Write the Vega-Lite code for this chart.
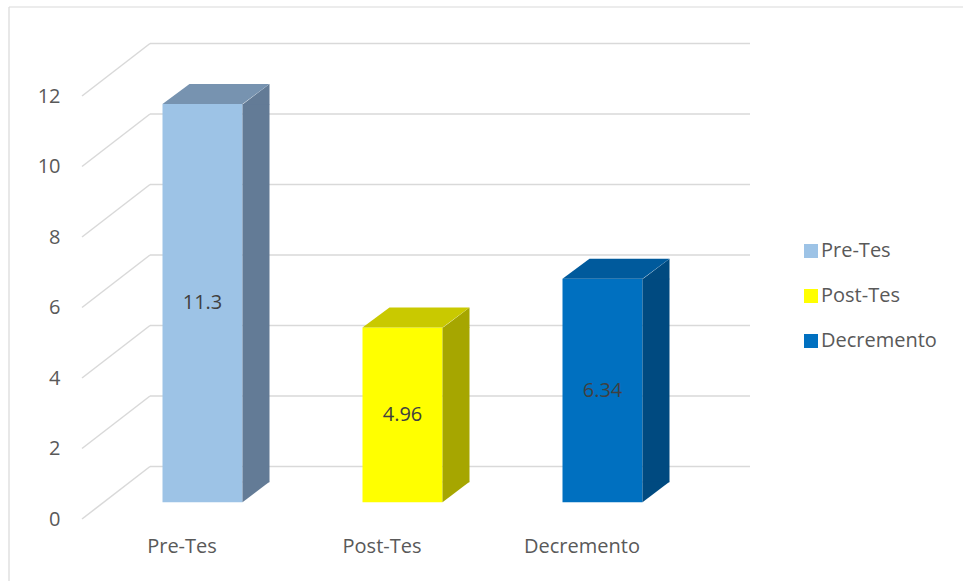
{
  "$schema": "https://vega.github.io/schema/vega-lite/v6.json",
  "autosize": {"type": "none"},
  "padding": {"left": 82, "top": 96, "right": 281, "bottom": 62},
  "width": 600,
  "height": 423,
  "background": "#ffffff",
  "config": {"view": {"stroke": null}, "font": "Open Sans"},
  "datasets": {
    "main": [
      {"cat": "Pre-Tes", "value": 11.3},
      {"cat": "Post-Tes", "value": 4.96},
      {"cat": "Decremento", "value": 6.34}
    ],
    "grid": [{"v": 0}, {"v": 2}, {"v": 4}, {"v": 6}, {"v": 8}, {"v": 10}, {"v": 12}]
  },
  "resolve": {"scale": {"y": "independent"}},
  "layer": [
    {
      "resolve": {"scale": {"color": "independent"}},
      "layer": [
        {
          "data": {"name": "grid"},
          "mark": {"type": "rule", "color": "#d9d9d9", "strokeWidth": 1.5, "xOffset": 68, "x2Offset": 68, "yOffset": -52.5},
          "encoding": {
            "x": {"datum": "Pre-Tes", "bandPosition": 0, "scale": {"domain": ["Pre-Tes", "Post-Tes", "Decremento"], "paddingInner": 0, "paddingOuter": 0}},
            "x2": {"datum": "Decremento", "bandPosition": 1},
            "y": {
              "field": "v", "type": "quantitative",
              "scale": {"domain": [0, 12], "nice": false, "zero": true},
              "axis": {"values": [0, 2, 4, 6, 8, 10, 12], "ticks": false, "domain": false, "grid": false, "title": null, "labelFontSize": 20, "labelFont": "Open Sans", "labelColor": "#595959", "labelPadding": 22}
            }
          }
        },
        {
          "data": {"name": "grid"},
          "mark": {"type": "rule", "color": "#d9d9d9", "strokeWidth": 1.5, "x2Offset": 68, "y2Offset": -52.5},
          "encoding": {
            "x": {"datum": "Pre-Tes", "bandPosition": 0},
            "x2": {"datum": "Pre-Tes", "bandPosition": 0},
            "y": {"field": "v", "type": "quantitative"},
            "y2": {"field": "v"}
          }
        },
        {
          "data": {"values": [{}]},
          "mark": {"type": "rule", "color": "#d9d9d9", "strokeWidth": 1.2, "xOffset": -73, "yOffset": -89, "y2Offset": 70},
          "encoding": {
            "x": {"datum": "Pre-Tes", "bandPosition": 0},
            "y": {"datum": 12, "type": "quantitative"},
            "y2": {"datum": 0}
          }
        },
        {
          "data": {"values": [{}]},
          "mark": {"type": "rule", "color": "#d9d9d9", "strokeWidth": 1.2, "xOffset": -73, "x2Offset": 300, "yOffset": -89},
          "encoding": {
            "x": {"datum": "Pre-Tes", "bandPosition": 0},
            "x2": {"datum": "Decremento", "bandPosition": 1},
            "y": {"datum": 12, "type": "quantitative"}
          }
        },
        {
          "data": {"name": "main"},
          "mark": {"type": "bar", "width": 80, "xOffset": 20.5, "yOffset": -16.7, "y2Offset": -16.7},
          "encoding": {
            "x": {
              "field": "cat", "type": "nominal", "sort": ["Pre-Tes", "Post-Tes", "Decremento"],
              "axis": {"title": null, "ticks": false, "domain": false, "labelAngle": 0, "labelAlign": "center", "labelFontSize": 20, "labelFont": "Open Sans", "labelColor": "#595959", "labelPadding": 27}
            },
            "y": {"field": "value", "type": "quantitative"},
            "y2": {"datum": 0},
            "color": {
              "field": "cat", "type": "nominal",
              "scale": {"domain": ["Pre-Tes", "Post-Tes", "Decremento"], "range": ["#9DC3E6", "#FFFF00", "#0070C0"]},
              "legend": {"orient": "none", "legendX": 719, "legendY": 145, "title": null, "symbolType": "square", "symbolSize": 196, "symbolStrokeWidth": 0, "labelFontSize": 20, "labelFont": "Open Sans", "labelColor": "#595959", "rowPadding": 25, "labelOffset": 0}
            }
          }
        },
        {
          "data": {"name": "main"},
          "mark": {"type": "bar", "width": 27, "xOffset": 74, "yOffset": -16.7, "y2Offset": -36.7},
          "encoding": {
            "x": {"field": "cat", "type": "nominal"},
            "y": {"field": "value", "type": "quantitative"},
            "y2": {"datum": 0},
            "color": {"field": "cat", "type": "nominal", "scale": {"domain": ["Pre-Tes", "Post-Tes", "Decremento"], "range": ["#637B96", "#A6A600", "#004A80"]}, "legend": null}
          }
        },
        {
          "data": {"name": "main"},
          "mark": {"type": "point", "filled": true, "opacity": 1, "size": 4, "shape": "M60.5,-16.2L87.5,-36.7L87.5,-16.2Z"},
          "encoding": {
            "x": {"field": "cat", "type": "nominal"},
            "y": {"field": "value", "type": "quantitative"},
            "color": {"field": "cat", "type": "nominal", "scale": {"domain": ["Pre-Tes", "Post-Tes", "Decremento"], "range": ["#637B96", "#A6A600", "#004A80"]}, "legend": null}
          }
        },
        {
          "data": {"name": "main"},
          "mark": {"type": "point", "filled": true, "opacity": 1, "size": 4, "shape": "M60.5,-37.2L87.5,-37.2L60.5,-16.7Z"},
          "encoding": {
            "x": {"field": "cat", "type": "nominal"},
            "y": {"datum": 0, "type": "quantitative"},
            "color": {"field": "cat", "type": "nominal", "scale": {"domain": ["Pre-Tes", "Post-Tes", "Decremento"], "range": ["#637B96", "#A6A600", "#004A80"]}, "legend": null}
          }
        },
        {
          "data": {"name": "main"},
          "mark": {"type": "point", "filled": true, "opacity": 1, "size": 4, "shape": "M-19.5,-16.7L60.5,-16.7L87.5,-36.7L7.5,-36.7Z"},
          "encoding": {
            "x": {"field": "cat", "type": "nominal"},
            "y": {"field": "value", "type": "quantitative"},
            "color": {"field": "cat", "type": "nominal", "scale": {"domain": ["Pre-Tes", "Post-Tes", "Decremento"], "range": ["#7793B0", "#C9C900", "#005A9C"]}, "legend": null}
          }
        }
      ]
    },
    {
      "data": {"name": "main"},
      "mark": {"type": "text", "fontSize": 20, "font": "Open Sans", "color": "#404040", "dx": 20.5, "dy": -16.7, "baseline": "middle", "align": "center"},
      "encoding": {
        "x": {"field": "cat", "type": "nominal"},
        "y": {"field": "value", "type": "quantitative", "scale": {"domain": [0, 24], "nice": false}, "axis": null},
        "text": {"field": "value", "type": "quantitative"}
      }
    }
  ]
}
